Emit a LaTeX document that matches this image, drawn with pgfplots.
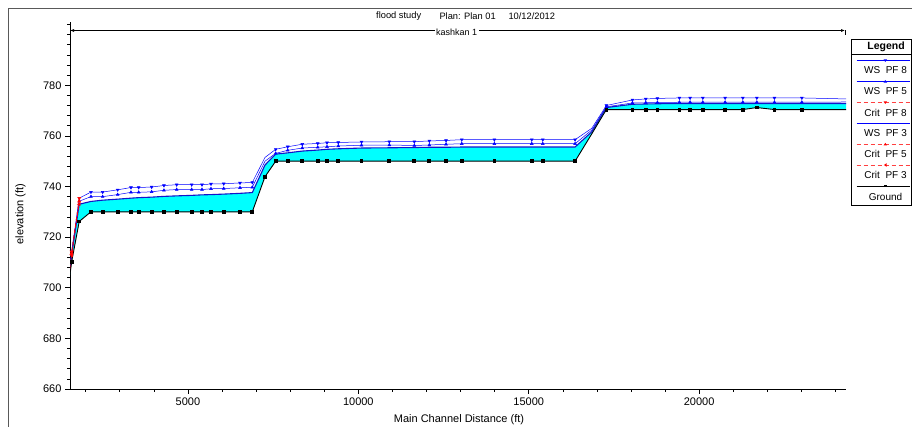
\documentclass[border=0pt]{standalone}
\usepackage{fontspec}
\setmainfont{Liberation Sans}
\usepackage{pgfplots}
\usepackage{pgfplotstable}
\pgfplotsset{compat=1.18}
\usepgfplotslibrary{fillbetween}
\usetikzlibrary{arrows.meta}

\definecolor{water}{RGB}{0,255,255}
\definecolor{wsblue}{RGB}{0,0,255}
\definecolor{wsdark}{RGB}{20,20,200}

% x = main channel distance (ft), gr = ground, ws3/ws5/ws8 = water surface PF 3/5/8
\pgfplotstableread{
x     gr     ws3    ws5    ws8
1540  705.2  707.0  707.5  708.0
1588  710.2  713.0  713.6  714.2
1811  726.2  733.0  734.2  735.4
2155  730.0  734.1  736.0  737.8
2498  730.0  734.6  736.0  737.8
2938  730.0  735.0  736.8  738.7
3329  730.0  735.4  737.7  739.6
3555  730.0  735.6  737.7  739.6
3936  730.0  735.8  737.9  739.8
4297  730.0  736.1  738.5  740.4
4670  730.0  736.3  738.8  740.7
5110  730.0  736.5  738.8  740.7
5413  730.0  736.7  738.8  740.7
5677  730.0  736.8  739.1  741.0
6050  730.0  737.0  739.2  741.1
6528  730.0  737.3  739.5  741.4
6889  730.0  737.6  739.7  741.6
7262  743.9  748.5  750.0  751.5
7576  750.0  752.8  753.1  754.7
7928  750.0  753.3  754.3  755.7
8356  750.0  754.0  755.2  756.7
8808  750.0  754.4  755.5  757.0
9081  750.0  754.7  755.7  757.3
9413  750.0  754.9  756.0  757.4
10094 750.0  755.2  756.3  757.6
10910 750.0  755.3  756.4  757.7
11644 750.0  755.4  756.2  757.7
12084 750.0  755.5  756.4  758.0
12574 750.0  755.5  756.7  758.2
13035 750.0  755.6  756.9  758.5
13992 750.0  755.6  756.9  758.5
15089 750.0  755.6  756.9  758.5
15412 750.0  755.6  756.9  758.5
16360 750.0  755.6  756.9  758.5
16850 760.8  761.6  762.3  763.0
17279 770.4  771.2  771.5  772.0
18042 770.4  772.5  773.0  774.2
18435 770.4  772.6  773.1  774.6
18776 770.4  772.7  773.2  774.8
19421 770.4  772.8  773.3  775.0
19735 770.4  772.8  773.3  775.0
20108 770.4  772.8  773.3  775.0
20763 770.4  772.8  773.3  775.0
21282 770.4  772.8  773.3  775.0
21693 771.2  772.8  773.3  775.0
22210 770.4  772.8  773.3  775.0
23014 770.4  772.8  773.3  775.0
24310 770.4  772.8  773.4  774.6
}\profile

% critical water surface, only where it is shown
\pgfplotstableread{
x     c8     c5     c3
1540  708.0  707.5  707.0
1588  714.2  713.6  713.0
1811  735.4  734.2  733.0
2000  nan    nan    nan
7262  751.5  750.0  748.5
8000  nan    nan    nan
16850 763.0  762.3  761.6
}\crit

\def\wsmarks{4,5,6,7,8,9,10,11,12,13,14,15,16,17,19,20,21,22,23,24,25,26,27,28,29,30,31,32,33,34,36,37,38,39,40,41,42,43,44,45,46,47}
\def\grmarks{2,3,4,5,6,7,8,9,10,11,12,13,14,15,16,17,18,19,20,21,22,23,24,25,26,27,28,29,30,31,32,33,34,36,37,38,39,40,41,42,43,44,45,46,47}

\begin{document}
\begin{tikzpicture}
\path (0,0) rectangle (912pt,427pt);

\begin{axis}[
    at={(70pt,38pt)}, anchor=south west,
    scale only axis, width=776pt, height=367pt,
    set layers,
    axis lines=left,
    axis line style={-, line width=0.8pt},
    tick align=outside,
    major tick length=5pt, minor tick length=3pt,
    tick style={black, line width=0.6pt},
    xmin=1540, xmax=24310, ymin=660, ymax=805,
    xtick={5000,10000,15000,20000},
    minor xtick={2000,3000,...,24000},
    ytick={660,680,...,780},
    minor ytick={664,668,...,804},
    scaled x ticks=false,
    /pgf/number format/1000 sep={},
    /pgf/number format/assume math mode=true,
    ticklabel style={font=\fontsize{11}{12}\selectfont},
    unbounded coords=jump,
    clip=true,
]
\addplot[name path=gr, draw=none, forget plot] table[x=x, y=gr] {\profile};
\addplot[name path=ws3, draw=none, forget plot] table[x=x, y=ws3] {\profile};
\addplot[fill=water, draw=none] fill between[of=ws3 and gr];

\addplot[wsblue, line width=0.5pt, mark=triangle*, mark size=1.6pt,
  mark options={solid, rotate=180}, mark indices=\wsmarks]
  table[x=x, y=ws8] {\profile};
\addplot[wsblue, line width=0.5pt, mark=triangle*, mark size=1.6pt,
  mark options={solid}, mark indices=\wsmarks]
  table[x=x, y=ws5] {\profile};
\addplot[wsdark, line width=1.1pt, no marks]
  table[x=x, y=ws3] {\profile};

\addplot[red, dashed, line width=0.6pt, mark=triangle*, mark size=1.7pt,
  mark options={solid, rotate=180}, mark indices={2,3,5,7}]
  table[x=x, y=c8] {\crit};
\addplot[red, dashed, line width=0.6pt, mark=triangle*, mark size=1.7pt,
  mark options={solid}, mark indices={2,3,5,7}]
  table[x=x, y=c5] {\crit};
\addplot[red, dashed, line width=0.6pt, mark=triangle*, mark size=1.7pt,
  mark options={solid, rotate=90}, mark indices={2,3,5,7}]
  table[x=x, y=c3] {\crit};

\addplot[black, line width=0.9pt, mark=square*, mark size=1.4pt,
  mark indices=\grmarks]
  table[x=x, y=gr] {\profile};
\end{axis}

\begin{scope}[shift={(0pt,427pt)}, x=1pt, y=-1pt]
  % outer frame
  \draw[black!65, line width=0.8pt] (8,427) -- (8,8) -- (912,8);
  % title
  \node[anchor=west, font=\fontsize{9.3}{10}\selectfont] at (372.7,16) {flood study};
  \node[anchor=west, font=\fontsize{9.3}{10}\selectfont] at (436,16) {Plan: Plan 01};
  \node[anchor=west, font=\fontsize{9.3}{10}\selectfont] at (505,16) {10/12/2012};
  % reach line
  \draw[line width=0.7pt, -{Latex[length=4pt,width=3pt]}] (458,30.5) -- (70,30.5);
  \draw[line width=0.7pt, -{Latex[length=4pt,width=3pt]}] (458,30.5) -- (845,30.5);
  \draw[line width=0.7pt] (845.5,30.5) -- (845.5,35);
  \node[fill=white, inner sep=1.5pt, font=\fontsize{9}{10}\selectfont] at (456.7,32) {kashkan 1};
  % axis titles
  \node[rotate=90, font=\fontsize{11}{12}\selectfont] at (20.5,214) {elevation (ft)};
  \node[font=\fontsize{11}{12}\selectfont] at (459,420) {Main Channel Distance (ft)};
  % legend
  \draw[line width=0.7pt, fill=white] (851.2,39.3) rectangle (911.5,205);
  \draw[line width=0.6pt] (851.2,54) -- (911.5,54);
  \node[font=\bfseries\fontsize{10.5}{11}\selectfont] at (886,46.7) {Legend};
  \begin{scope}[font=\fontsize{10}{11}\selectfont]
    \draw[wsblue, line width=0.6pt] (856.7,60.5) -- (910,60.5);
    \fill[wsblue] (883.5,59.3) -- (887.1,59.3) -- (885.3,62) -- cycle;
    \node at (885.5,70.5) {WS\ \ PF 8};
    \draw[wsblue, line width=0.6pt] (856.7,81.5) -- (910,81.5);
    \fill[wsblue] (883.5,82.7) -- (887.1,82.7) -- (885.3,80) -- cycle;
    \node at (885.5,91.5) {WS\ \ PF 5};
    \draw[red!75, line width=0.7pt, dash pattern=on 4pt off 3pt] (856.7,102.5) -- (910,102.5);
    \fill[red] (883.5,101.3) -- (887.1,101.3) -- (885.3,104) -- cycle;
    \node at (885.5,112.5) {Crit\ \ PF 8};
    \draw[wsblue, line width=0.6pt] (856.7,123.3) -- (910,123.3);
    \node at (885.5,133.5) {WS\ \ PF 3};
    \draw[red!75, line width=0.7pt, dash pattern=on 4pt off 3pt] (856.7,144.3) -- (910,144.3);
    \fill[red] (883.5,145.5) -- (887.1,145.5) -- (885.3,142.8) -- cycle;
    \node at (885.5,154.3) {Crit\ \ PF 5};
    \draw[red!75, line width=0.7pt, dash pattern=on 4pt off 3pt] (856.7,165) -- (910,165);
    \fill[red] (886.6,163.2) -- (886.6,166.8) -- (883.9,165) -- cycle;
    \node at (885.5,175) {Crit\ \ PF 3};
    \draw[black, line width=0.6pt] (856.7,186) -- (910,186);
    \fill[black] (883.9,184.6) rectangle (886.7,187.4);
    \node at (885.5,196.5) {Ground};
  \end{scope}
\end{scope}
\pgfresetboundingbox
\useasboundingbox (0,0) rectangle (912pt,427pt);
\end{tikzpicture}
\end{document}
